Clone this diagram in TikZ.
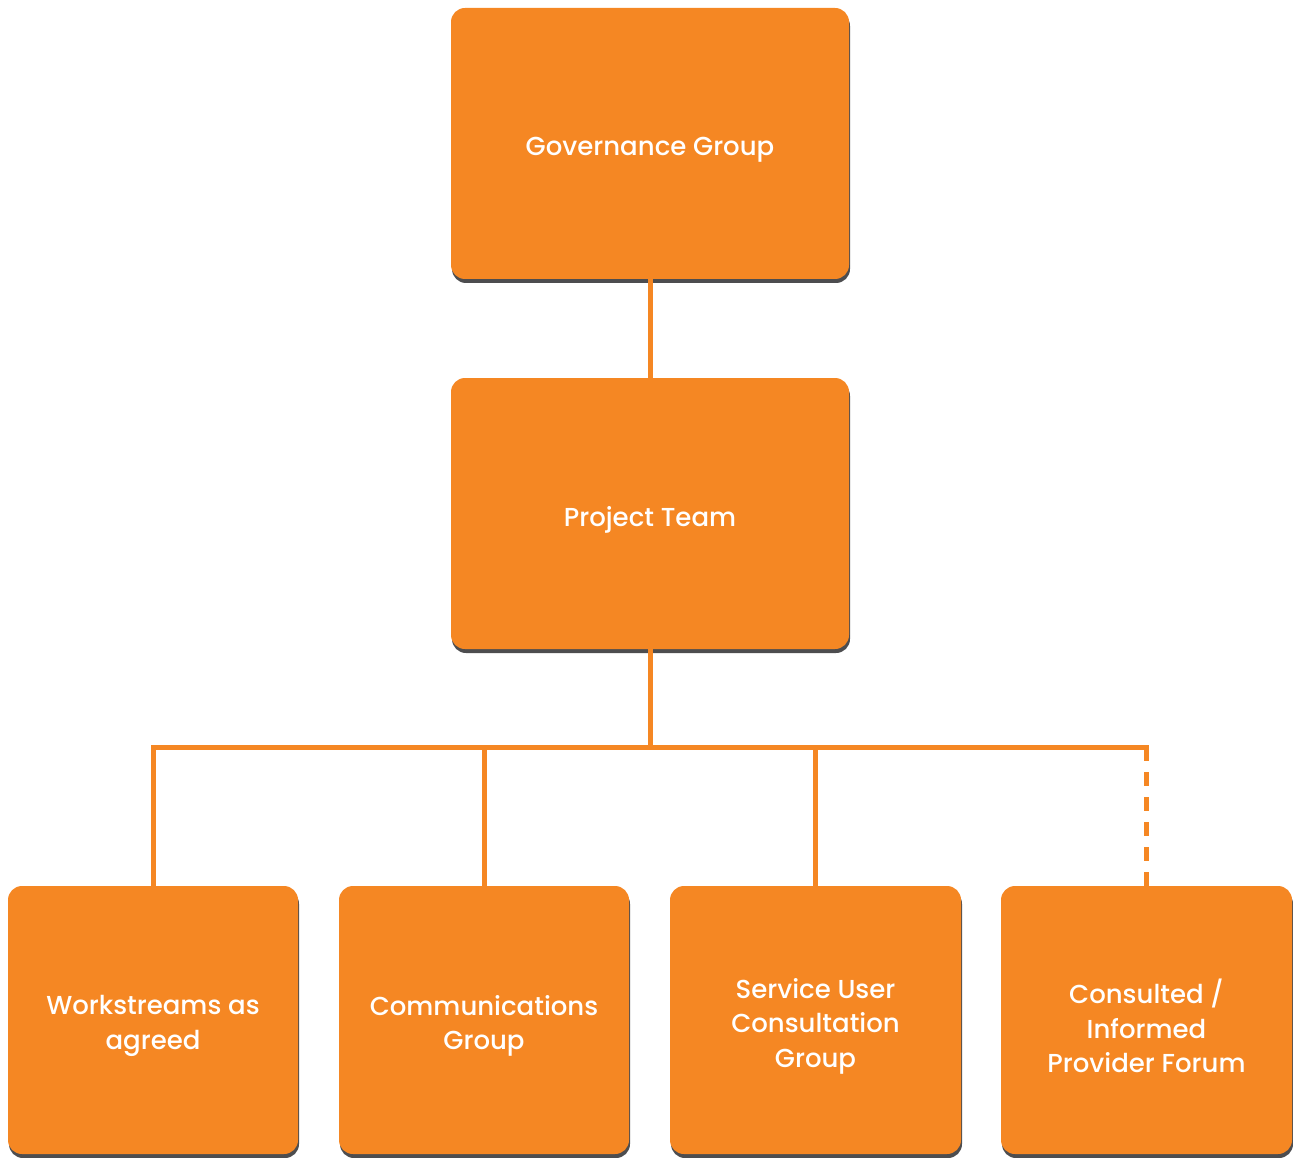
\documentclass[tikz,border=0pt]{standalone}
\usepackage{fontspec}
\setmainfont{Poppins}[UprightFont={* Medium}]
\usepackage{tikz}
\usetikzlibrary{
    shadows
}

\definecolor{grouporange}{HTML}{F58723}
\definecolor{groupshadow}{HTML}{4D4D4F}

\tikzset{
  groupbox/.style={
    fill=grouporange,
    rounded corners=14pt,
    general shadow={fill=groupshadow, shadow xshift=1pt, shadow yshift=-4pt}
  },
  grouptext/.style={
    text=white,
    align=center,
    yshift=-6pt,
    font=\fontsize{26}{34.5}\selectfont
  },
  link/.style={
    draw=grouporange,
    line width=5pt
  }
}

\begin{document}
\begin{tikzpicture}[x=1pt, y=-1pt]

  \useasboundingbox (0,0) rectangle (1293,1158);

  % top {{{
  \node[
    groupbox,
    minimum width=398pt,
    minimum height=271pt,
    label={[grouptext]center:Governance Group}
  ] (gov) at (650,143.5) {};
  % }}}

  % middle {{{
  \node[
    groupbox,
    minimum width=398pt,
    minimum height=271pt,
    label={[grouptext]center:Project Team}
  ] (proj) at (650,513.5) {};
  % }}}

  % bottom row {{{
  \node[
    groupbox,
    minimum width=290pt,
    minimum height=268pt,
    label={[grouptext]center:Workstreams as\\agreed}
  ] (work) at (153,1020) {};

  \node[
    groupbox,
    minimum width=290pt,
    minimum height=268pt,
    label={[grouptext]center:Communications\\Group}
  ] (comms) at (484,1020) {};

  \node[
    groupbox,
    minimum width=291pt,
    minimum height=268pt,
    label={[grouptext]center:Service User\\Consultation\\Group}
  ] (service) at (815.5,1020) {};

  \node[
    groupbox,
    minimum width=291pt,
    minimum height=268pt,
    label={[grouptext]center:Consulted /\\Informed\\Provider Forum}
  ] (forum) at (1146.5,1020) {};
  % }}}

  % links {{{
  \coordinate (bus) at (650,747);
  \coordinate (forumtop) at (forum.north |- bus);

  \draw[link] (gov.south) -- (proj.north);
  \draw[link] (proj.south) -- (bus);
  \draw[link] (work.north) |- (bus);
  \draw[link] (comms.north) -- (comms.north |- bus);
  \draw[link] (service.north) -- (service.north |- bus);
  \draw[link, line cap=rect] (bus) -- (forumtop);
  \draw[link, dash pattern=on 14pt off 11pt] (forumtop) -- (forum.north);
  % }}}

\end{tikzpicture}
\end{document}
